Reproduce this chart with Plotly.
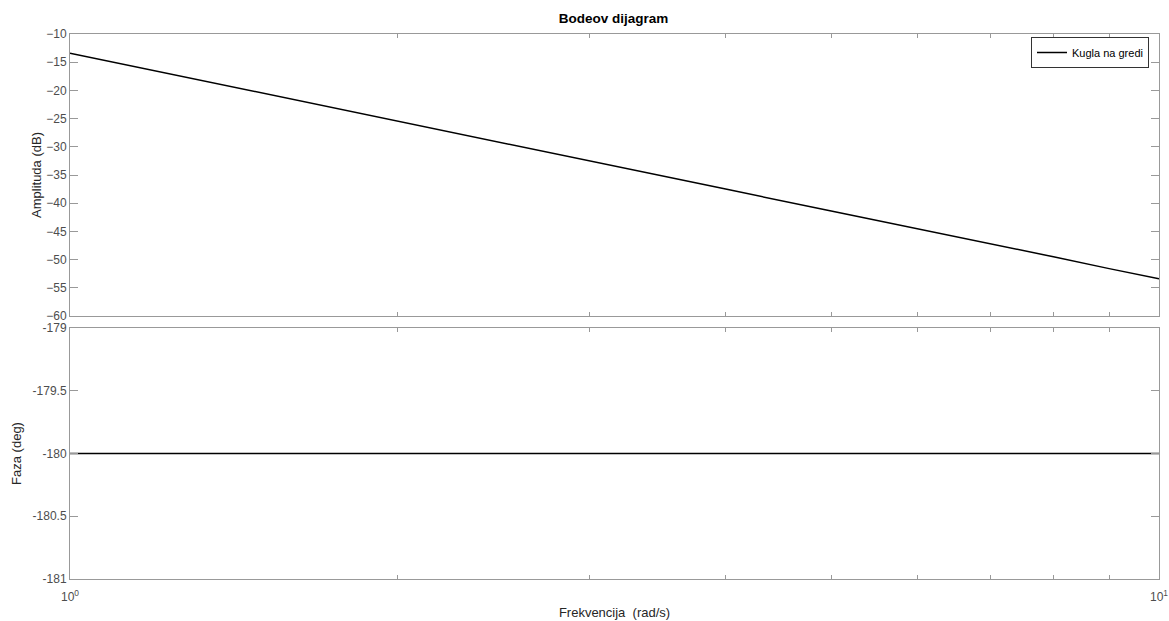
import plotly.graph_objects as go
from plotly.subplots import make_subplots

frequency = [1, 2, 3, 4, 5, 6, 7, 8, 9, 10]
amplitude_db = [-13.4, -25.4, -32.5, -37.5, -41.4, -44.5, -47.2, -49.5, -51.6, -53.4]
phase_deg = [-180, -180, -180, -180, -180, -180, -180, -180, -180, -180]

amp_ticks = [-10, -15, -20, -25, -30, -35, -40, -45, -50, -55, -60]
phase_ticks = [-179, -179.5, -180, -180.5, -181]
phase_ticktext = ["-179", "-179.5", "-180", "-180.5", "-181"]
x_ticks = [1, 2, 3, 4, 5, 6, 7, 8, 9, 10]
x_ticktext = ["10<sup>0</sup>", "", "", "", "", "", "", "", "", "10<sup>1</sup>"]

W, H = 1169, 621
L, R, T, B = 70, 10, 34, 42
plot_h = H - T - B
plot_w = W - L - R
top_bottom_px = 316
bot_top_px = 328

FONT = "Liberation Sans, Arial, sans-serif"

fig = make_subplots(rows=2, cols=1, shared_xaxes=False)

fig.add_trace(go.Scatter(x=frequency, y=amplitude_db, mode="lines",
                         line=dict(color="black", width=1.5),
                         name="Kugla na gredi", showlegend=True), row=1, col=1)
fig.add_trace(go.Scatter(x=frequency, y=phase_deg, mode="lines",
                         line=dict(color="black", width=1.5),
                         name="phase", showlegend=False), row=2, col=1)

axis_color = "#999999"
tick_font = dict(family=FONT, size=12, color="#4d4d4d")
label_font = dict(family=FONT, size=13, color="#262626")

common_x = dict(type="log", range=[0, 1], showgrid=False, zeroline=False,
                showline=True, linecolor=axis_color, linewidth=1, mirror="ticks",
                ticks="inside", ticklen=4, tickcolor=axis_color,
                tickvals=x_ticks, tickfont=tick_font, automargin=False,
                ticklabeloverflow="allow")
fig.update_xaxes(**common_x, ticktext=[""] * len(x_ticks), row=1, col=1)
fig.update_xaxes(**common_x, ticktext=x_ticktext, ticklabelstandoff=7,
                 title=dict(text="Frekvencija  (rad/s)", font=label_font, standoff=4),
                 row=2, col=1)

common_y = dict(showgrid=False, zeroline=False, showline=True, linecolor=axis_color,
                linewidth=1, mirror="ticks", ticks="inside", ticklen=8,
                tickcolor=axis_color, tickfont=tick_font, automargin=False)
fig.update_yaxes(**common_y, range=[-60, -10], tickvals=amp_ticks,
                 title=dict(text="Amplituda (dB)", font=label_font, standoff=1),
                 row=1, col=1)
fig.update_yaxes(**common_y, range=[-181, -179], tickvals=phase_ticks,
                 ticktext=phase_ticktext,
                 title=dict(text="Faza (deg)", font=label_font, standoff=8),
                 row=2, col=1)

fig.update_layout(
    width=W, height=H,
    margin=dict(l=L, r=R, t=T, b=B, autoexpand=False),
    paper_bgcolor="white", plot_bgcolor="white",
    yaxis=dict(domain=[(H - B - top_bottom_px) / plot_h, 1]),
    yaxis2=dict(domain=[0, (H - B - bot_top_px) / plot_h]),
    xaxis=dict(domain=[0, 1]), xaxis2=dict(domain=[0, 1]),
    title=dict(text="<b>Bodeov dijagram</b>", x=613.5 / W, xref="container",
               xanchor="center", y=1 - 18 / H, yref="container", yanchor="middle",
               font=dict(family=FONT, size=13.5, color="black")),
    legend=dict(x=(1149 - L) / plot_w, y=(H - B - 52.5) / plot_h,
                xanchor="right", yanchor="middle",
                bordercolor="#333333", borderwidth=1, bgcolor="white",
                font=dict(family=FONT, size=11, color="black"),
                itemwidth=30, tracegroupgap=0),
    showlegend=True,
)

fig.write_html(
    "out.html",
    config={"displayModeBar": False},
    post_script="document.body.style.margin='0';document.body.style.overflow='hidden';",
)
